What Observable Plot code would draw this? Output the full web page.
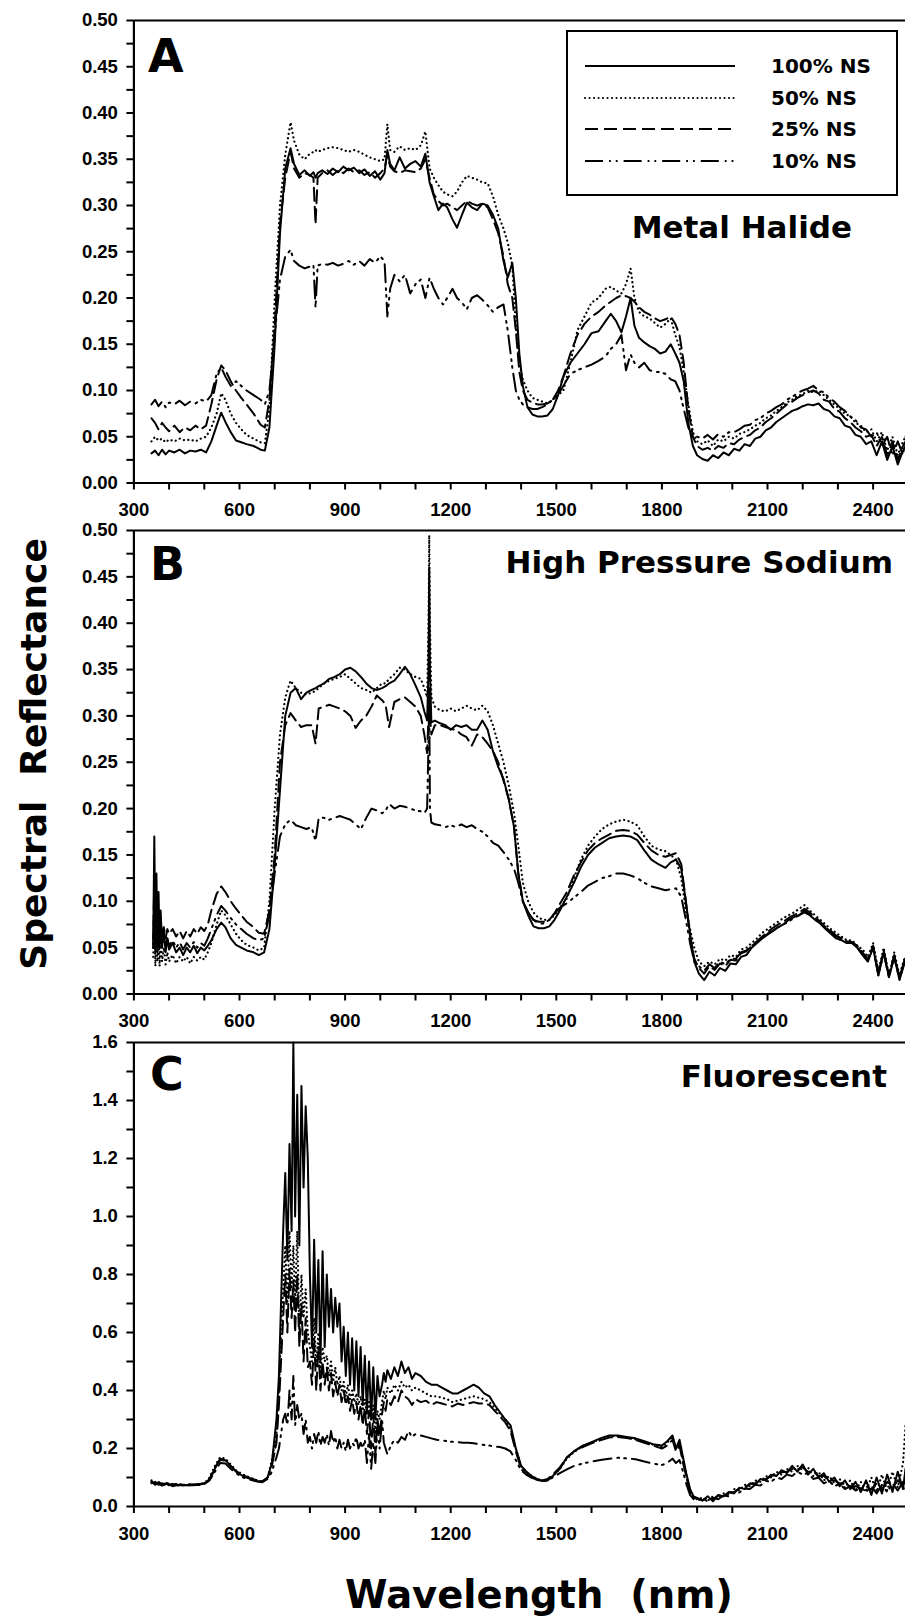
<!DOCTYPE html>
<html><head><meta charset="utf-8">
<script src="https://cdn.jsdelivr.net/npm/d3@7"></script>
<script src="https://cdn.jsdelivr.net/npm/@observablehq/plot@0.6"></script>
<style>
html,body{margin:0;padding:0;background:#fff;}
#root{position:relative;width:905px;height:1619px;overflow:hidden;background:#fff;}
#root svg{position:absolute;left:0;overflow:visible;}
</style></head><body><div id="root"></div>
<script>
// ---------- Data ----------
const seriesNames = ["100% NS", "50% NS", "25% NS", "10% NS"];
const panelLetters = ["A", "B", "C"];
const panelTitles = ["Metal Halide", "High Pressure Sodium", "Fluorescent"];
const xTickValues = [300,400,500,600,700,800,900,1000,1100,1200,1300,1400,1500,1600,1700,1800,1900,2000,2100,2200,2300,2400];
const xLabelValues = [300,600,900,1200,1500,1800,2100,2400];

// Panel A – Metal Halide
const wlA = [350,360,370,380,390,400,415,430,445,460,475,490,505,520,535,548,560,575,590,605,620,640,660,672,685,700,
 715,730,745,755,770,785,800,810,816,822,835,850,865,880,895,910,925,940,955,970,985,1000,1012,1020,1028,1040,1055,1070,1085,1100,1115,1128,
 1140,1152,1165,1178,1190,1205,1218,1232,1246,1260,1275,1290,1305,1320,1335,1350,1362,1375,1385,1395,1405,1418,1432,1446,1460,1475,1490,
 1505,1520,1540,1560,1580,1600,1620,1640,1655,1670,1685,1698,1711,1722,1735,1750,1765,1780,1795,1810,1825,1838,1850,1862,1875,1888,
 1900,1915,1930,1945,1960,1975,1990,2005,2020,2035,2050,2065,2080,2095,2110,2125,2140,2155,2170,2185,2200,2215,2230,2245,2260,2275,2290,2305,2320,2335,2350,2365,2380,2395,2410,2425,2440,2455,2470,2485,2492];
const a100 = [.032,.035,.030,.036,.031,.035,.033,.036,.032,.035,.034,.036,.033,.045,.062,.076,.066,.055,.046,.044,.042,.040,.036,.035,.060,.150,
 .270,.340,.362,.345,.333,.338,.332,.336,.330,.335,.338,.334,.340,.336,.342,.338,.341,.335,.339,.332,.337,.328,.335,.360,.345,.338,.352,.340,.345,.348,.342,.356,
 .325,.310,.295,.302,.298,.285,.276,.290,.303,.298,.295,.302,.300,.290,.275,.240,.222,.238,.200,.140,.105,.082,.074,.072,.072,.073,.080,
 .095,.115,.130,.140,.150,.162,.164,.175,.183,.175,.163,.180,.200,.170,.157,.152,.148,.145,.140,.142,.150,.140,.130,.110,.065,.040,
 .030,.026,.024,.030,.027,.033,.030,.037,.035,.042,.040,.048,.050,.057,.060,.066,.070,.074,.078,.080,.083,.085,.084,.086,.080,.078,.072,.070,.062,.060,.052,.050,.042,.045,.030,.045,.025,.040,.020,.035,.040];
const a50 = [.045,.050,.046,.048,.044,.047,.045,.048,.046,.047,.045,.048,.050,.060,.075,.097,.090,.075,.065,.058,.052,.048,.044,.043,.080,.200,
 .300,.355,.390,.370,.355,.350,.356,.358,.360,.358,.360,.362,.363,.362,.360,.358,.360,.358,.355,.352,.350,.348,.350,.388,.360,.358,.364,.360,.362,.360,.365,.380,
 .340,.330,.322,.315,.312,.310,.315,.325,.332,.330,.328,.325,.324,.310,.290,.275,.260,.235,.170,.130,.112,.100,.092,.090,.088,.086,.090,
 .095,.100,.130,.165,.180,.195,.200,.210,.212,.208,.205,.215,.232,.200,.185,.180,.178,.173,.168,.172,.178,.160,.147,.120,.085,.055,
 .045,.042,.046,.040,.047,.045,.050,.048,.053,.055,.058,.062,.065,.070,.073,.078,.082,.087,.090,.094,.096,.100,.098,.100,.095,.090,.085,.080,.075,.072,.065,.062,.055,.058,.045,.055,.035,.050,.030,.045,.050];
const a25 = [.070,.065,.058,.065,.060,.056,.062,.055,.060,.057,.062,.058,.062,.085,.112,.127,.122,.110,.100,.092,.085,.075,.063,.060,.090,.170,
 .280,.330,.358,.340,.330,.335,.333,.330,.280,.330,.335,.338,.333,.338,.335,.340,.336,.338,.333,.336,.330,.335,.340,.355,.342,.337,.335,.338,.337,.336,.340,.350,
 .330,.312,.305,.300,.302,.298,.295,.300,.305,.302,.300,.302,.298,.285,.270,.245,.215,.200,.165,.120,.100,.090,.087,.085,.085,.086,.090,
 .100,.115,.140,.160,.172,.180,.185,.192,.196,.200,.203,.202,.200,.196,.190,.185,.182,.178,.175,.177,.180,.172,.160,.130,.080,.050,
 .040,.036,.038,.035,.040,.038,.043,.042,.047,.050,.052,.057,.060,.066,.070,.075,.080,.085,.088,.092,.095,.098,.100,.097,.090,.088,.080,.077,.070,.066,.060,.056,.050,.052,.040,.050,.030,.045,.025,.040,.045];
const a10 = [.085,.090,.083,.088,.082,.087,.085,.089,.084,.088,.086,.090,.088,.095,.118,.125,.115,.105,.110,.105,.100,.095,.090,.085,.100,.160,
 .220,.245,.252,.240,.235,.232,.234,.236,.190,.235,.237,.236,.238,.235,.237,.240,.236,.240,.235,.242,.238,.245,.240,.180,.210,.225,.218,.225,.205,.215,.220,.200,
 .222,.210,.200,.193,.200,.210,.200,.195,.188,.200,.203,.198,.192,.185,.190,.193,.165,.125,.100,.090,.085,.082,.080,.080,.082,.085,.090,
 .095,.105,.118,.122,.125,.128,.132,.137,.145,.150,.160,.122,.139,.130,.125,.130,.122,.120,.120,.118,.112,.110,.100,.080,.060,.050,
 .050,.048,.052,.047,.053,.050,.055,.055,.058,.062,.063,.068,.070,.075,.078,.082,.085,.090,.093,.097,.100,.102,.105,.100,.098,.092,.088,.082,.078,.072,.068,.060,.058,.050,.055,.040,.050,.030,.045,.030,.050];

// Panel B – High Pressure Sodium
const wlB = [355,358,361,364,367,370,373,376,380,385,390,395,400,410,420,430,440,450,460,470,480,490,500,510,520,535,548,560,575,590,605,620,640,655,670,685,700,
 715,730,745,760,775,790,805,816,825,840,855,870,885,900,915,930,945,960,975,990,1005,1015,1025,1040,1055,1070,1085,1100,1115,1125,1133,
 1137,1139,1141,1145,1155,1170,1185,1200,1215,1230,1245,1260,1275,1290,1305,1320,1335,1350,1365,1380,1392,1405,1420,1435,1450,1465,1480,1495,
 1510,1530,1550,1570,1590,1610,1630,1650,1670,1690,1710,1730,1750,1770,1790,1810,1825,1840,1855,1868,1880,1892,
 1905,1920,1935,1950,1965,1980,1995,2010,2025,2040,2055,2070,2085,2100,2115,2130,2145,2160,2175,2190,2205,2220,2235,2250,2265,2280,2295,2310,2325,2340,2355,2370,2385,2400,2415,2430,2445,2460,2475,2490];
const b100 = [.060,.170,.050,.130,.045,.110,.050,.090,.050,.070,.045,.060,.048,.055,.045,.050,.042,.050,.045,.052,.044,.050,.047,.052,.058,.070,.077,.072,.060,.053,.050,.047,.045,.042,.045,.070,.140,
 .220,.300,.325,.330,.318,.325,.328,.330,.332,.335,.340,.342,.345,.350,.352,.348,.342,.335,.330,.328,.330,.332,.335,.338,.345,.353,.345,.333,.320,.305,.295,
 .350,.460,.350,.293,.295,.292,.290,.285,.290,.288,.290,.285,.285,.295,.285,.262,.245,.232,.210,.180,.130,.100,.085,.073,.071,.071,.073,.080,
 .090,.105,.120,.137,.150,.158,.163,.168,.170,.171,.170,.166,.155,.145,.140,.136,.142,.145,.135,.100,.065,.035,
 .022,.015,.024,.020,.028,.025,.033,.032,.040,.042,.050,.055,.060,.064,.068,.072,.075,.080,.083,.085,.088,.085,.080,.076,.070,.065,.060,.058,.055,.055,.050,.042,.035,.050,.020,.045,.018,.040,.015,.035];
const b50 = [.040,.100,.030,.080,.035,.070,.030,.060,.035,.050,.032,.045,.035,.042,.033,.040,.035,.040,.033,.040,.036,.040,.037,.045,.055,.075,.090,.085,.075,.065,.058,.053,.050,.047,.050,.100,.200,
 .280,.320,.338,.330,.325,.323,.325,.327,.330,.335,.338,.340,.342,.345,.340,.335,.330,.328,.325,.330,.335,.335,.340,.345,.352,.350,.345,.342,.340,.330,.320,
 .400,.495,.400,.320,.310,.306,.305,.308,.305,.308,.311,.308,.306,.311,.305,.290,.270,.250,.225,.195,.160,.120,.100,.088,.082,.080,.080,.085,
 .093,.103,.125,.145,.160,.170,.178,.183,.186,.188,.186,.182,.170,.160,.156,.154,.150,.145,.125,.090,.070,.050,
 .035,.030,.035,.032,.038,.036,.042,.040,.048,.050,.055,.060,.066,.070,.074,.078,.082,.085,.088,.092,.096,.090,.085,.080,.075,.070,.066,.062,.058,.058,.052,.048,.040,.055,.025,.050,.020,.045,.020,.040];
const b25 = [.050,.130,.045,.100,.055,.090,.060,.080,.062,.072,.060,.070,.065,.070,.062,.068,.060,.068,.062,.070,.065,.072,.068,.075,.090,.108,.116,.110,.100,.092,.085,.078,.072,.066,.065,.090,.150,
 .250,.290,.303,.295,.288,.290,.290,.270,.308,.310,.312,.310,.308,.305,.300,.287,.295,.300,.310,.322,.317,.312,.288,.315,.318,.320,.315,.310,.300,.280,.260,
 .300,.330,.300,.280,.290,.290,.288,.286,.285,.280,.277,.268,.280,.277,.270,.262,.250,.230,.210,.180,.130,.100,.088,.080,.078,.078,.080,.087,
 .097,.110,.128,.142,.155,.163,.168,.172,.176,.177,.176,.172,.163,.155,.150,.148,.150,.152,.140,.100,.062,.038,
 .028,.022,.030,.026,.033,.030,.037,.036,.044,.046,.052,.057,.062,.067,.071,.075,.078,.082,.085,.088,.092,.088,.083,.078,.072,.068,.063,.060,.057,.056,.052,.045,.038,.052,.022,.047,.020,.042,.018,.038];
const b10 = [.050,.120,.050,.090,.055,.080,.050,.070,.055,.065,.050,.060,.052,.058,.050,.056,.048,.055,.050,.056,.050,.055,.052,.060,.070,.085,.095,.090,.082,.075,.070,.065,.060,.058,.060,.085,.130,
 .170,.183,.188,.182,.180,.178,.180,.165,.190,.190,.188,.190,.192,.190,.188,.183,.178,.190,.200,.198,.195,.198,.205,.200,.203,.202,.200,.198,.197,.195,.200,
 .270,.320,.200,.185,.183,.182,.180,.182,.180,.183,.180,.182,.178,.175,.170,.163,.160,.153,.145,.135,.120,.100,.088,.080,.076,.076,.080,.087,
 .093,.098,.104,.110,.117,.121,.125,.127,.130,.130,.128,.125,.120,.116,.114,.112,.113,.114,.105,.080,.055,.035,
 .030,.025,.032,.028,.035,.032,.038,.038,.045,.047,.052,.056,.060,.065,.068,.072,.075,.078,.082,.085,.090,.086,.082,.076,.072,.067,.062,.060,.056,.055,.050,.043,.036,.050,.020,.044,.018,.040,.016,.035];

// Panel C – Fluorescent
const wlC = [350,360,370,380,395,410,425,440,455,470,485,500,515,530,545,560,575,590,610,630,650,665,680,692,705,
 712,718,724,730,736,742,748,753,758,764,770,776,782,788,794,800,806,812,818,824,830,836,842,848,854,860,866,872,878,884,890,896,902,908,914,920,926,932,938,944,950,956,962,968,974,980,986,992,998,
 1005,1010,1015,1020,1030,1040,1050,1060,1070,1080,1090,1100,1115,1130,1145,1160,1175,1190,1205,1220,1235,1250,1265,1280,1295,1310,1325,1340,1355,1370,1385,1400,
 1415,1430,1445,1460,1475,1490,1510,1530,1550,1575,1600,1625,1650,1675,1700,1725,1750,1775,1800,1815,1830,1840,1850,1860,1870,1880,1890,
 1900,1915,1930,1945,1960,1975,1990,2005,2020,2035,2050,2065,2080,2095,2110,2125,2140,2155,2170,2185,2200,2215,2230,2245,2260,2275,2290,2305,2320,2335,2350,2365,2380,2395,2410,2425,2440,2455,2470,2485,2492];
const c100 = [.085,.075,.080,.072,.078,.070,.075,.072,.074,.073,.076,.078,.090,.130,.165,.160,.140,.120,.105,.095,.088,.085,.100,.150,.300,
 .45,.70,.95,1.15,.85,1.25,.95,1.60,1.00,1.42,.90,1.45,1.10,1.38,1.20,.80,.55,.92,.60,.85,.50,.88,.55,.80,.62,.75,.60,.72,.62,.70,.50,.62,.45,.60,.42,.58,.40,.57,.38,.55,.35,.52,.32,.50,.30,.48,.30,.45,.38,
 .42,.46,.43,.47,.44,.48,.45,.50,.46,.48,.44,.46,.45,.43,.42,.42,.41,.40,.39,.39,.40,.41,.42,.41,.39,.38,.35,.325,.30,.28,.20,.14,
 .12,.105,.095,.088,.09,.105,.13,.17,.19,.21,.222,.235,.245,.245,.24,.235,.225,.215,.21,.225,.245,.20,.23,.17,.11,.06,.035,
 .030,.020,.035,.018,.040,.035,.050,.045,.065,.060,.080,.075,.095,.090,.110,.105,.125,.115,.140,.120,.145,.110,.130,.100,.115,.085,.100,.070,.090,.060,.085,.050,.090,.040,.100,.045,.110,.050,.120,.060,.130];
const c50 = [.090,.080,.085,.075,.080,.075,.078,.074,.076,.075,.077,.080,.100,.140,.170,.165,.145,.125,.110,.100,.090,.086,.100,.160,.250,
 .40,.60,.75,.90,.70,.95,.75,.90,.70,.95,.60,.80,.65,.75,.60,.55,.50,.65,.48,.60,.45,.55,.50,.52,.45,.50,.43,.48,.42,.45,.40,.43,.38,.42,.37,.40,.36,.39,.35,.38,.33,.37,.32,.36,.30,.35,.25,.33,.30,
 .36,.40,.37,.41,.39,.42,.40,.43,.41,.42,.40,.41,.40,.39,.38,.38,.375,.37,.36,.365,.37,.375,.38,.375,.37,.36,.34,.32,.30,.27,.20,.14,
 .12,.105,.095,.09,.092,.105,.13,.165,.188,.208,.22,.232,.242,.243,.238,.232,.222,.213,.205,.22,.24,.20,.22,.16,.10,.055,.03,
 .025,.030,.020,.035,.030,.045,.040,.060,.055,.075,.070,.090,.085,.105,.100,.120,.110,.130,.120,.140,.125,.135,.105,.120,.090,.105,.080,.095,.065,.090,.055,.085,.050,.100,.050,.110,.055,.120,.065,.150,.280];
const c25 = [.080,.085,.075,.080,.072,.078,.072,.076,.073,.075,.074,.077,.095,.135,.160,.158,.140,.122,.108,.098,.090,.087,.100,.140,.220,
 .35,.50,.65,.80,.60,.82,.65,.78,.60,.80,.55,.70,.50,.65,.48,.50,.42,.58,.40,.55,.40,.50,.42,.48,.40,.46,.38,.43,.38,.42,.36,.40,.35,.38,.33,.37,.32,.36,.30,.35,.28,.34,.25,.33,.20,.32,.18,.30,.25,
 .32,.36,.33,.37,.35,.38,.36,.40,.38,.37,.35,.37,.36,.365,.35,.36,.355,.35,.345,.355,.35,.355,.36,.355,.355,.35,.33,.31,.29,.26,.19,.13,
 .11,.10,.092,.09,.095,.11,.135,.168,.19,.205,.218,.228,.238,.24,.236,.23,.22,.21,.20,.21,.23,.19,.21,.15,.10,.05,.03,
 .028,.022,.032,.025,.038,.035,.048,.050,.062,.065,.078,.080,.090,.095,.105,.110,.118,.120,.130,.128,.135,.120,.120,.105,.105,.090,.090,.080,.078,.070,.070,.062,.070,.058,.080,.060,.085,.065,.090,.070,.100];
const c10 = [.085,.080,.083,.078,.080,.076,.078,.075,.077,.076,.078,.080,.090,.120,.150,.148,.130,.115,.100,.092,.086,.084,.095,.120,.170,
 .20,.25,.30,.32,.28,.40,.30,.45,.28,.35,.30,.32,.25,.30,.22,.24,.20,.25,.22,.26,.21,.24,.22,.25,.21,.26,.22,.24,.20,.23,.20,.22,.19,.23,.20,.22,.21,.24,.20,.22,.20,.23,.15,.25,.13,.22,.15,.28,.20,
 .30,.22,.20,.18,.21,.23,.22,.24,.23,.26,.24,.25,.245,.24,.235,.23,.228,.225,.223,.222,.22,.22,.218,.215,.212,.21,.207,.205,.20,.19,.16,.125,
 .11,.10,.092,.088,.09,.10,.115,.128,.14,.148,.155,.16,.165,.168,.166,.163,.155,.148,.143,.15,.165,.15,.16,.12,.075,.04,.025,
 .020,.028,.018,.030,.025,.038,.035,.050,.048,.062,.060,.075,.072,.088,.085,.100,.095,.110,.105,.120,.110,.115,.095,.100,.080,.088,.070,.078,.060,.070,.055,.065,.050,.070,.045,.075,.050,.080,.055,.085,.060];

// ---------- Styling ----------
const TITLE_FONT = "'DejaVu Sans', sans-serif";
const TICK_FONT = "'Liberation Sans', Arial, sans-serif";
const dashStyles = [
  {},
  {strokeDasharray: "0.1,4.4", strokeLinecap: "round"},
  {strokeDasharray: "13,6"},
  {strokeDasharray: "18,6,1.8,5,1.8,6"}
];

const root = document.getElementById("root");

function panel({wl, vals, yMax, yStep, digits, top, mb}) {
  const n = Math.round(yMax / yStep);
  const yTicks = d3.range(0, n + 1).map(i => +(i * yStep).toFixed(4));
  const marks = [];
  vals.forEach((v, k) => {
    const data = wl.map((x, i) => ({x, y: v[i]}));
    marks.push(Plot.line(data, {x: "x", y: "y", stroke: "black", strokeWidth: k === 1 ? 2.2 : 2, strokeLinejoin: "round", ...dashStyles[k]}));
  });
  marks.push(
    Plot.axisX({ticks: xTickValues, tickFormat: d => xLabelValues.includes(d) ? String(d) : "", tickSize: 7, tickPadding: 13, strokeWidth: 2, label: null}),
    Plot.axisY({ticks: yTicks, tickFormat: d => (Math.round(d / yStep) % 2 === 0 ? d.toFixed(digits) : ""), tickSize: 7, tickPadding: 9, strokeWidth: 2, label: null}),
    Plot.ruleY([0], {strokeWidth: 2.2}),
    Plot.ruleY([yMax], {strokeWidth: 2.2}),
    Plot.ruleX([300], {strokeWidth: 2.2})
  );
  const svg = Plot.plot({
    width: 905, height: 528,
    marginLeft: 133.4, marginRight: 0, marginTop: 20, marginBottom: mb,
    x: {domain: [300, 2492]},
    y: {domain: [0, yMax]},
    style: {fontFamily: TICK_FONT, fontSize: "18.5px", fontWeight: "bold", color: "black", background: "none", overflow: "visible"},
    marks
  });
  svg.style.position = "absolute";
  svg.style.top = top + "px";
  svg.style.left = "0px";
  svg.style.maxWidth = "none";
  svg.style.background = "none";
  root.appendChild(svg);
}

panel({wl: wlA, vals: [a100, a50, a25, a10], yMax: 0.5, yStep: 0.025, digits: 2, top: 0, mb: 45.5});
panel({wl: wlB, vals: [b100, b50, b25, b10], yMax: 0.5, yStep: 0.025, digits: 2, top: 510, mb: 44.5});
panel({wl: wlC, vals: [c100, c50, c25, c10], yMax: 1.6, yStep: 0.1, digits: 1, top: 1022, mb: 44});

// ---------- Annotation overlay ----------
const ov = d3.select(root).append("svg")
  .attr("width", 905).attr("height", 1619)
  .style("position", "absolute").style("top", "0px").style("left", "0px")
  .style("pointer-events", "none");

const letterPos = [[148, 72], [150, 580], [150, 1090]];
panelLetters.forEach((L, i) => {
  ov.append("text").attr("x", letterPos[i][0]).attr("y", letterPos[i][1])
    .attr("font-family", TITLE_FONT).attr("font-weight", "bold").attr("font-size", 46).text(L);
});
const titlePos = [[852, 238], [893, 573], [887, 1087]];
panelTitles.forEach((t, i) => {
  ov.append("text").attr("x", titlePos[i][0]).attr("y", titlePos[i][1])
    .attr("text-anchor", "end")
    .attr("font-family", TITLE_FONT).attr("font-weight", "bold").attr("font-size", 31).text(t);
});

// legend
ov.append("rect").attr("x", 567).attr("y", 31).attr("width", 330).attr("height", 164)
  .attr("fill", "white").attr("stroke", "black").attr("stroke-width", 2);
const legY = [66, 98, 129, 161];
seriesNames.forEach((s, k) => {
  const ln = ov.append("line").attr("x1", 585).attr("x2", 735).attr("y1", legY[k]).attr("y2", legY[k])
    .attr("stroke", "black").attr("stroke-width", 2);
  const st = dashStyles[k];
  if (st.strokeDasharray) ln.attr("stroke-dasharray", st.strokeDasharray);
  if (st.strokeLinecap) ln.attr("stroke-linecap", st.strokeLinecap);
  ov.append("text").attr("x", 771).attr("y", legY[k] + 7)
    .attr("font-family", TITLE_FONT).attr("font-weight", "bold").attr("font-size", 20).text(s);
});

// axis titles
ov.append("text").attr("transform", "translate(46,754) rotate(-90)")
  .attr("text-anchor", "middle")
  .attr("font-family", TITLE_FONT).attr("font-weight", "bold").attr("font-size", 36)
  .style("white-space", "pre")
  .text("Spectral  Reflectance");
ov.append("text").attr("x", 539).attr("y", 1608)
  .attr("text-anchor", "middle")
  .attr("font-family", TITLE_FONT).attr("font-weight", "bold").attr("font-size", 38.5)
  .style("white-space", "pre")
  .text("Wavelength  (nm)");
</script>
</body></html>
